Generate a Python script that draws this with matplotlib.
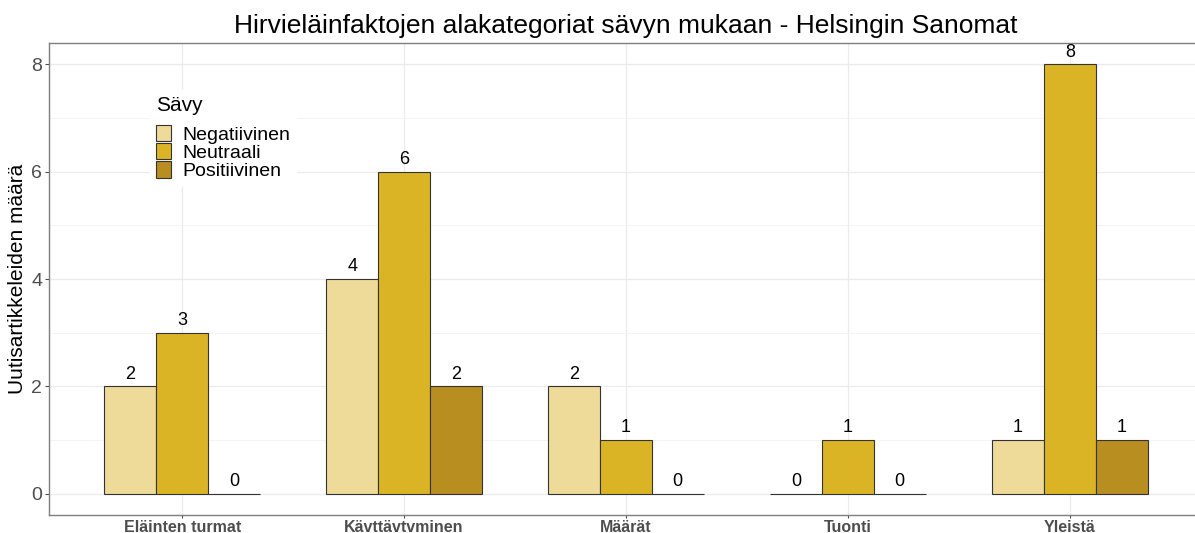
import matplotlib
matplotlib.use("Agg")
import matplotlib.pyplot as plt
from matplotlib.patches import Patch
import numpy as np

categories = ["Eläinten turmat", "Kävttävtvminen", "Määrät", "Tuonti", "Yleistä"]
series_names = ["Negatiivinen", "Neutraali", "Positiivinen"]
negatiivinen = [2, 4, 2, 0, 1]
neutraali = [3, 6, 1, 1, 8]
positiivinen = [0, 2, 0, 0, 1]
colors = ["#EEDB99", "#DBB425", "#B88E21"]

plt.rcParams['font.family'] = ['Liberation Sans', 'DejaVu Sans']

W, H = 1195, 533
fig = plt.figure(figsize=(W / 100, H / 100), dpi=100)
ax = fig.add_axes([49 / W, 1 - 515 / H, (1203 - 49) / W, (515 - 43) / H])

x = np.arange(len(categories))
bw = 0.7 / 3
for i, (vals, c) in enumerate(zip([negatiivinen, neutraali, positiivinen], colors)):
    pos = x + (i - 1) * bw
    ax.bar(pos, vals, width=bw, color=c, edgecolor="#333333", linewidth=0.8, zorder=3)
    for px, v in zip(pos, vals):
        ax.text(px, v + 0.07, str(v), ha="center", va="bottom", fontsize=13, color="black", zorder=4)

ax.set_xlim(-0.6, len(categories) - 1 + 0.6)
ax.set_ylim(-0.4, 8.4)
ax.set_yticks([0, 2, 4, 6, 8])
ax.set_yticks([1, 3, 5, 7], minor=True)
ax.set_xticks(x)
ax.set_xticklabels(categories, fontsize=11.5, fontweight="bold", color="#4D4D4D")
ax.tick_params(axis="y", labelsize=14, labelcolor="#4D4D4D", color="#4D4D4D", length=3, pad=2)
ax.tick_params(axis="y", which="minor", length=0)
ax.tick_params(axis="x", color="#4D4D4D", length=2.5, pad=1)
ax.grid(True, which="major", color="#EBEBEB", linewidth=0.9, zorder=0)
ax.grid(True, which="minor", axis="y", color="#F3F3F3", linewidth=0.6, zorder=0)
ax.set_axisbelow(True)
for s in ax.spines.values():
    s.set_color("#7F7F7F")
    s.set_linewidth(1.0)

ax.set_ylabel("Uutisartikkeleiden määrä", fontsize=15, color="black", labelpad=3)
ax.set_title("Hirvieläinfaktojen alakategoriat sävyn mukaan - Helsingin Sanomat",
             fontsize=19, color="black", pad=7, x=(626 - 49) / (1203 - 49))

handles = [Patch(facecolor=c, edgecolor="#333333", linewidth=0.8) for c in colors]
leg = ax.legend(handles, series_names, title="Sävy", loc="upper left",
                bbox_to_anchor=(150 / W, 1 - 90 / H), bbox_transform=fig.transFigure,
                fontsize=14, title_fontsize=15, frameon=True, framealpha=1,
                edgecolor="white", fancybox=False, labelspacing=-0.05,
                handlelength=0.8, handleheight=0.95, handletextpad=0.55,
                borderpad=0.3, borderaxespad=0)
leg._legend_box.align = "left"
leg._legend_box.sep = 7
leg.set_zorder(5)

fig.savefig("out.png", dpi=100)
